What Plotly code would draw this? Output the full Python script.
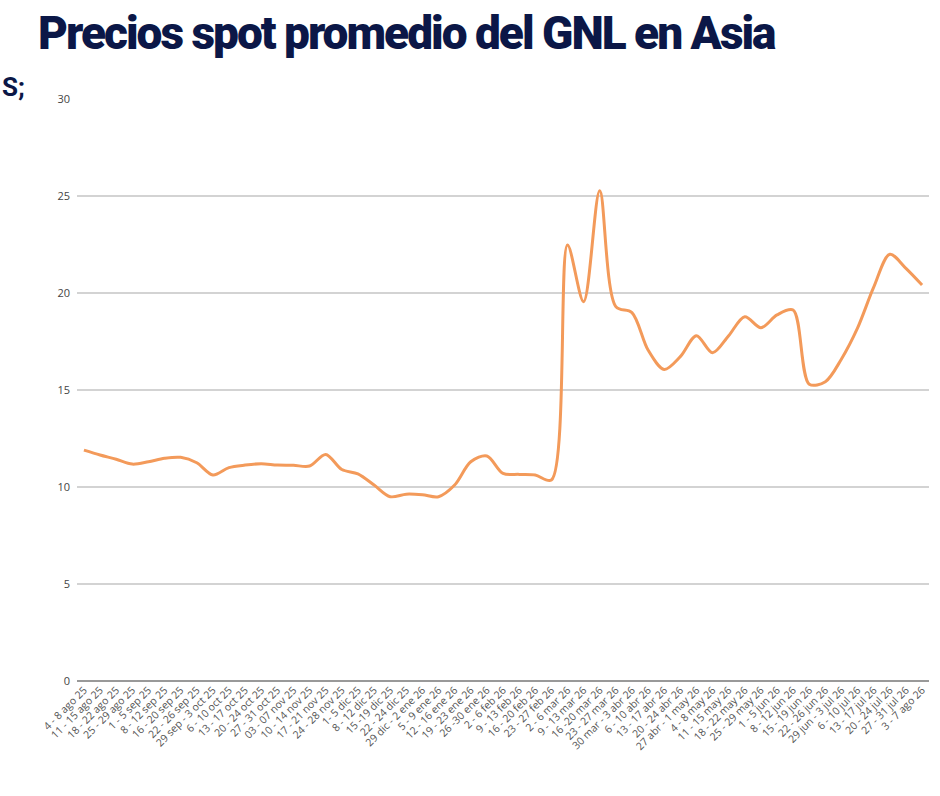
import plotly.graph_objects as go

weeks = [
    "4 - 8 ago 25", "11 - 15 ago 25", "18 - 22 ago 25", "25 - 29 ago 25",
    "1 - 5 sep 25", "8 - 12 sep 25", "16 - 20 sep 25", "22 - 26 sep 25",
    "29 sep - 3 oct 25", "6 - 10 oct 25", "13 - 17 oct 25", "20 - 24 oct 25",
    "27 - 31 oct 25", "03 - 07 nov 25", "10 - 14 nov 25", "17 - 21 nov 25",
    "24 - 28 nov 25", "1- 5 dic 25", "8 - 12 dic 25", "15 -19 dic 25",
    "22 - 24 dic 25", "29 dic - 2 ene 26", "5 - 9 ene 26", "12 - 16 ene 26",
    "19 - 23 ene 26", "26 -30 ene 26", "2 - 6 feb 26", "9 - 13 feb 26",
    "16 - 20 feb 26", "23 - 27 feb 26", "2 - 6 mar 26", "9 - 13 mar 26",
    "16 -20 mar 26", "23 - 27 mar 26", "30 mar - 3 abr 26", "6 - 10 abr 26",
    "13 - 17 abr 26", "20 - 24 abr 26", "27 abr - 1 may 26", "4 - 8 may 26",
    "11 - 15 may 26", "18 - 22 may 26", "25 - 29 may 26", "1 - 5 jun 26",
    "8 - 12 jun 26", "15 - 19 jun 26", "22 - 26 jun 26", "29 jun - 3 jul 26",
    "6 - 10 jul 26", "13 - 17 jul 26", "20 - 24 jul 26", "27 - 31 jul 26",
    "3 - 7 ago 26",
]

prices = [
    11.9, 11.65, 11.43, 11.18, 11.3, 11.48, 11.53, 11.25, 10.62, 11.0,
    11.13, 11.2, 11.13, 11.12, 11.08, 11.68, 10.9, 10.68, 10.1, 9.5,
    9.63, 9.6, 9.5, 10.1, 11.3, 11.6, 10.7, 10.65, 10.62, 10.36,
    22.47, 19.55, 25.27, 19.3, 18.99, 17.06, 16.06, 16.72, 17.8, 16.92,
    17.8, 18.78, 18.21, 18.87, 19.12, 15.3, 15.43, 16.6, 18.2, 20.3,
    22.0, 21.27, 20.41,
]

y_ticks = [0, 5, 10, 15, 20, 25, 30]

fig = go.Figure()
fig.add_trace(go.Scatter(
    x=list(range(len(weeks))), y=prices, mode="lines",
    line=dict(color="#F39A5A", width=3, shape="spline", smoothing=0.9),
    hoverinfo="x+y",
))

W, H = 940, 796
ml, mr, mt, mb = 77, 11, 99, 115

fig.update_layout(
    width=W, height=H,
    margin=dict(l=ml, r=mr, t=mt, b=mb, autoexpand=False),
    paper_bgcolor="white", plot_bgcolor="white",
    showlegend=False,
    title=dict(
        text="Precios spot promedio del GNL en Asia",
        font=dict(family="Roboto, Inter, DejaVu Sans", size=46, weight=900, color="#0B1747"),
        xref="container", yref="container", x=38 / W, xanchor="left",
        y=1 - 33 / H, yanchor="middle",
    ),
    xaxis=dict(
        tickmode="array", tickvals=list(range(len(weeks))), ticktext=weeks,
        tickangle=-45, range=[-0.43, len(weeks) - 1 + 0.43],
        showgrid=False, zeroline=False, showline=False, ticks="",
        tickfont=dict(family="Open Sans, DejaVu Sans", size=10.5, color="#555555"),
    ),
    yaxis=dict(
        range=[0, 30], tickmode="array", tickvals=y_ticks,
        ticktext=[str(v) for v in y_ticks],
        showgrid=True, gridcolor="#D3D3D3", gridwidth=1.5,
        zeroline=True, zerolinecolor="#999999", zerolinewidth=2,
        showline=False, ticks="", ticklabelstandoff=6,
        tickfont=dict(family="Open Sans, DejaVu Sans", size=11, color="#444444"),
    ),
    annotations=[dict(
        text="<b>S;</b>", xref="paper", yref="paper",
        x=(27 - ml) / (W - ml - mr), y=(H - mb - 87) / (H - mt - mb),
        xanchor="right", yanchor="middle", showarrow=False,
        font=dict(family="Roboto", size=26, color="#0B1747"),
    )],
)

post = """
document.body.style.margin='0';
document.querySelectorAll('.gtitle').forEach(function(e){e.style.letterSpacing='-2px';});
"""
fig.write_html("out.html", post_script=post, config={"displayModeBar": False})
